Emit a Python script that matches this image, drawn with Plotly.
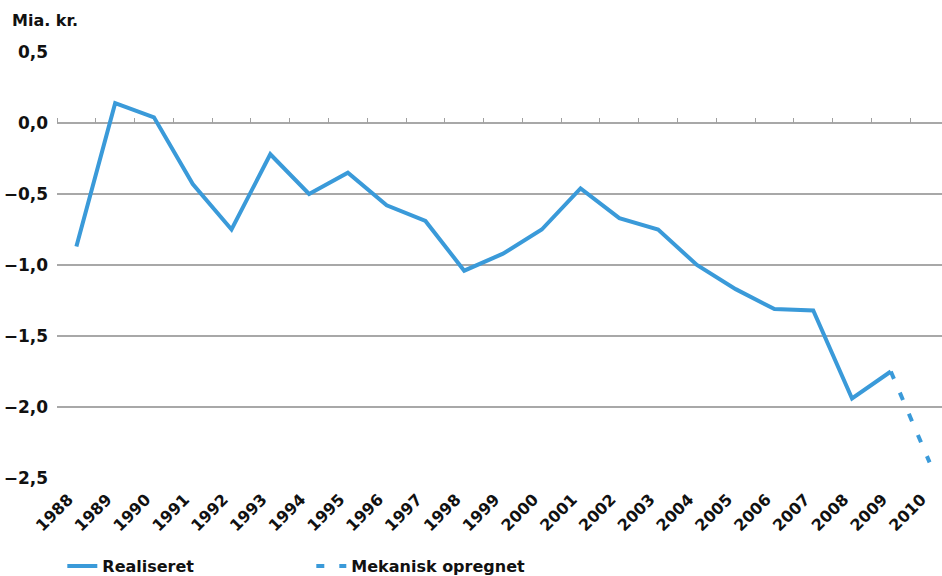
import plotly.graph_objects as go

years = [str(y) for y in range(1988, 2011)]
realiseret = [-0.87, 0.14, 0.04, -0.43, -0.75, -0.22, -0.50, -0.35, -0.58, -0.69,
              -1.04, -0.92, -0.75, -0.46, -0.67, -0.75, -1.00, -1.17, -1.31, -1.32,
              -1.94, -1.75]
mekanisk_years = ["2009", "2010"]
mekanisk = [-1.75, -2.39]

blue = "#3a9ad9"
font_family = "DejaVu Sans"

fig = go.Figure()
fig.add_trace(go.Scatter(x=years[:len(realiseret)], y=realiseret, mode="lines",
                         name="Realiseret", line=dict(color=blue, width=4)))
fig.add_trace(go.Scatter(x=mekanisk_years, y=mekanisk, mode="lines",
                         name="Mekanisk opregnet",
                         line=dict(color=blue, width=4, dash="8px,15px")))

# invisible helper trace on the overlay axis so the tick marks on the zero line show
fig.add_trace(go.Scatter(x=years, y=[None] * len(years), xaxis="x2", showlegend=False,
                         hoverinfo="skip"))

fig.update_layout(
    width=942, height=576,
    margin=dict(l=57, r=0, t=52, b=98, autoexpand=False),
    paper_bgcolor="white", plot_bgcolor="white",
    separators=",.",
    font=dict(family=font_family, color="#111111"),
    showlegend=True,
    legend=dict(orientation="h", x=0.006, y=-0.167, xanchor="left", yanchor="top",
                font=dict(size=16, weight="bold"), entrywidth=204),
    annotations=[dict(text="<b>Mia. kr.</b>", xref="paper", yref="paper", x=-0.053, y=1.048,
                      xanchor="left", yanchor="bottom", showarrow=False,
                      font=dict(size=16))],
)

fig.update_xaxes(type="category", range=[-0.5, 22.32], showgrid=False, zeroline=False,
                 showline=False, ticks="", tickangle=-45, automargin=False,
                 ticklabelstandoff=8, ticklabelshift=-8,
                 tickfont=dict(size=16, weight="bold"))
fig.update_layout(xaxis2=dict(type="category", overlaying="x", anchor="free",
                              position=5 / 6, range=[-0.5, 22.32], side="top",
                              showgrid=False, zeroline=False, showline=False,
                              showticklabels=False, ticks="outside", ticklen=5,
                              tickcolor="#a0a0a0", tickwidth=1,
                              tickson="boundaries"))
fig.update_yaxes(range=[-2.5, 0.5], dtick=0.5, tickformat=".1f", showgrid=True,
                 gridcolor="#a8a8a8", gridwidth=1.5, zeroline=False, showline=False,
                 ticks="", automargin=False, ticklabelstandoff=8,
                 tickfont=dict(size=17, weight="bold"))

# the page's default body margin would push the figure 8px off the window
fig.write_html("out.html", config={"displayModeBar": False},
               post_script="document.body.style.margin = '0';")
